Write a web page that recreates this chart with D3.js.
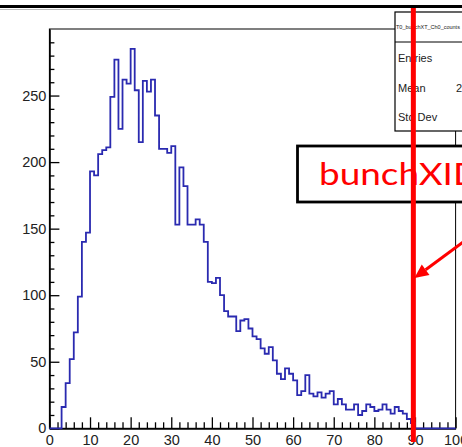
<!DOCTYPE html>
<html>
<head>
<meta charset="utf-8">
<script src="https://cdn.jsdelivr.net/npm/d3@7"></script>
<style>
  html, body { margin: 0; padding: 0; background: #fff; }
  svg { display: block; }
</style>
</head>
<body>
<svg id="chart" width="462" height="447"></svg>
<script>
// bunchXID distribution: 100 unit-wide bins from 0 to 100
const binLow = d3.range(0, 100);
const counts = [
  0, 0, 0, 16, 34, 52, 72, 99, 140, 147,
  193, 190, 206, 209, 211, 249, 277, 225, 262, 259,
  285, 254, 215, 261, 253, 262, 235, 210, 210, 207,
  212, 153, 196, 182, 153, 153, 157, 153, 140, 110,
  109, 113, 100, 88, 84, 84, 73, 81, 82, 75,
  69, 67, 60, 56, 61, 51, 41, 37, 45, 41,
  36, 25, 28, 40, 26, 24, 27, 23, 26, 28,
  18, 22, 18, 14, 14, 18, 10, 13, 18, 16,
  13, 14, 18, 14, 11, 16, 13, 11, 7, 4,
  0, 0, 0, 0, 0, 0, 0, 0, 0, 0
];
const xMajorTicks = [0, 10, 20, 30, 40, 50, 60, 70, 80, 90, 100];
const yMajorTicks = [0, 50, 100, 150, 200, 250];
const statsLabels = ["Entries", "Mean", "Std Dev"];
const histName = "T0_bunchXT_Ch0_counts";
const markerLabel = "bunchXID";
const markerValue = 89.6;

const svg = d3.select("#chart");
const W = 462, H = 447;

const x = d3.scaleLinear().domain([0, 100]).range([49.4, 455.6]);
const y = d3.scaleLinear().domain([0, 300]).range([428.3, 29]);

const font = "'Liberation Sans', Arial, Helvetica, sans-serif";

// plot frame
svg.append("rect")
  .attr("x", x(0)).attr("y", y(300))
  .attr("width", x(100) - x(0)).attr("height", y(0) - y(300))
  .attr("fill", "none").attr("stroke", "#000").attr("stroke-width", 1);

// x axis: major + minor ticks pointing inward
const gx = svg.append("g").attr("transform", `translate(0,${y(0)})`);
gx.call(d3.axisBottom(x).tickValues(xMajorTicks).tickSize(-11).tickSizeOuter(0)
  .tickPadding(6.5).tickFormat(d3.format("d")));
const gxMinor = svg.append("g").attr("transform", `translate(0,${y(0)})`);
gxMinor.call(d3.axisBottom(x).tickValues(d3.range(0, 101, 2).filter(v => v % 10 !== 0))
  .tickSize(-6).tickSizeOuter(0).tickFormat(""));

// y axis
const gy = svg.append("g").attr("transform", `translate(${x(0)},0)`);
gy.call(d3.axisLeft(y).tickValues(yMajorTicks).tickSize(-10).tickSizeOuter(0)
  .tickPadding(3).tickFormat(d3.format("d")));
const gyMinor = svg.append("g").attr("transform", `translate(${x(0)},0)`);
gyMinor.call(d3.axisLeft(y).tickValues(d3.range(0, 300, 10).filter(v => v % 50 !== 0))
  .tickSize(-5).tickSizeOuter(0).tickFormat(""));

[gx, gxMinor, gy, gyMinor].forEach(g => {
  g.select(".domain").attr("stroke", "#000").attr("stroke-width", 1.3);
  g.selectAll(".tick line").attr("stroke", "#000").attr("stroke-width", 1.3);
  g.selectAll(".tick text").attr("fill", "#222").attr("font-family", font).attr("font-size", 14.5);
});

// histogram outline
const pts = [[x(0), y(0)]];
binLow.forEach((b, i) => {
  pts.push([x(b), y(counts[i])]);
  pts.push([x(b + 1), y(counts[i])]);
});
pts.push([x(100), y(0)]);
svg.append("path")
  .attr("d", d3.line()(pts))
  .attr("fill", "none")
  .attr("stroke", "#2a2ab0")
  .attr("stroke-width", 1.8)
  .attr("stroke-linejoin", "miter");

// statistics box
const total = d3.sum(counts);
const mean = d3.sum(counts, (c, i) => c * (binLow[i] + 0.5)) / total;
const std = Math.sqrt(d3.sum(counts, (c, i) => c * (binLow[i] + 0.5 - mean) ** 2) / total);
const statsValues = [d3.format("d")(total), mean.toFixed(2), std.toFixed(2)];

const sb = svg.append("g");
sb.append("rect").attr("x", 395).attr("y", 12).attr("width", 120).attr("height", 119)
  .attr("fill", "#fff").attr("stroke", "#000").attr("stroke-width", 1.2);
sb.append("line").attr("x1", 395).attr("x2", 515).attr("y1", 42).attr("y2", 42)
  .attr("stroke", "#000").attr("stroke-width", 1);
sb.append("text").attr("x", 396).attr("y", 29).attr("font-family", font)
  .attr("font-size", 5.5).attr("fill", "#222").text(histName);
statsLabels.forEach((s, i) => {
  sb.append("text").attr("x", 398).attr("y", 62 + i * 29.5).attr("font-family", font)
    .attr("font-size", 11).attr("fill", "#222").text(s);
  sb.append("text").attr("x", i === 1 ? 456 : 475).attr("y", 62 + i * 29.5).attr("font-family", font)
    .attr("font-size", 11).attr("fill", "#222").text(statsValues[i]);
});

// annotation box
const ab = svg.append("g");
ab.append("rect").attr("x", 297.5).attr("y", 146).attr("width", 200).attr("height", 56)
  .attr("fill", "#fff").attr("stroke", "#000").attr("stroke-width", 2.8);
ab.append("text").attr("x", 319).attr("y", 185)
  .attr("font-family", "Lato, 'DejaVu Sans', sans-serif").attr("font-size", 30)
  .attr("fill", "#ff0000")
  .attr("textLength", 162).attr("lengthAdjust", "spacingAndGlyphs")
  .text(markerLabel);

// marker line
svg.append("line")
  .attr("x1", x(markerValue)).attr("x2", x(markerValue))
  .attr("y1", 5).attr("y2", 442)
  .attr("stroke", "#ff0000").attr("stroke-width", 5);

// arrow toward the marker line
const tip = [x(markerValue) + 1, 278];
const tail = [470, 237];
const ang = Math.atan2(tip[1] - tail[1], tip[0] - tail[0]);
const headLen = 14, headW = 6.5;
const base = [tip[0] - headLen * Math.cos(ang), tip[1] - headLen * Math.sin(ang)];
svg.append("line")
  .attr("x1", tail[0]).attr("y1", tail[1]).attr("x2", base[0]).attr("y2", base[1])
  .attr("stroke", "#ff0000").attr("stroke-width", 3);
svg.append("path")
  .attr("d", d3.line()([
    tip,
    [base[0] + headW * Math.sin(ang), base[1] - headW * Math.cos(ang)],
    [base[0] - headW * Math.sin(ang), base[1] + headW * Math.cos(ang)]
  ]) + "Z")
  .attr("fill", "#ff0000");

// page border at the top
svg.append("line").attr("x1", 0).attr("x2", W).attr("y1", 6.5).attr("y2", 6.5)
  .attr("stroke", "#000").attr("stroke-width", 3);
svg.append("line").attr("x1", 0).attr("x2", 180).attr("y1", 9.5).attr("y2", 9.5)
  .attr("stroke", "#bbb").attr("stroke-width", 1);
</script>
</body>
</html>
